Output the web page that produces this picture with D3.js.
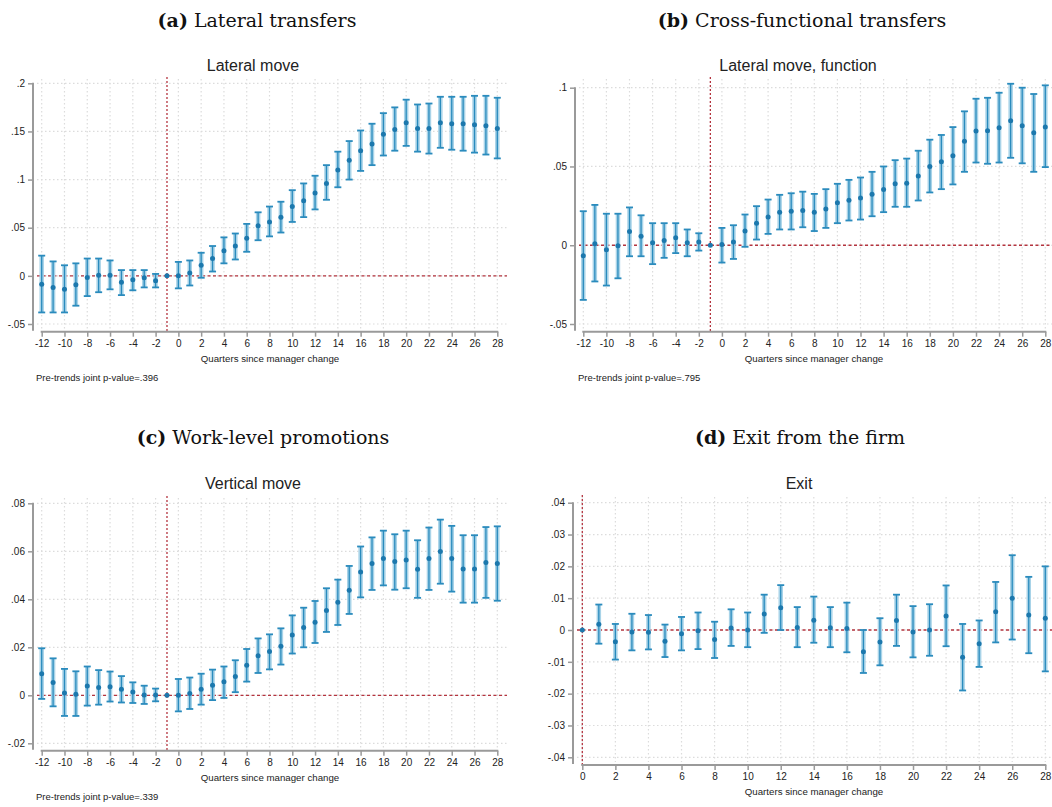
<!DOCTYPE html>
<html>
<head>
<meta charset="utf-8">
<script src="https://cdn.jsdelivr.net/npm/d3@7/dist/d3.min.js"></script>
<style>
  body { margin: 0; background: #fff; }
  text { font-family: "Liberation Sans", Arial, sans-serif; fill: #222; }
  .ptitle { font-family: "DejaVu Serif", "Liberation Serif", serif; fill: #111; }
</style>
</head>
<body>
<svg id="chart" width="1052" height="807"></svg>
<script>
// quarters relative to the manager change
var quartersEvent = [-12,-11,-10,-9,-8,-7,-6,-5,-4,-3,-2,-1,0,1,2,3,4,5,6,7,8,9,10,11,12,13,14,15,16,17,18,19,20,21,22,23,24,25,26,27,28];
var quartersExit = [0,1,2,3,4,5,6,7,8,9,10,11,12,13,14,15,16,17,18,19,20,21,22,23,24,25,26,27,28];

// (a) lateral move
var lateralCoef = [-0.0087,-0.012,-0.014,-0.0093,-0.0017,0.0007,0.0007,-0.0066,-0.004,-0.002,-0.005,0,
  0,0.003,0.011,0.018,0.026,0.031,0.039,0.052,0.056,0.061,0.072,0.078,0.086,0.096,0.110,0.120,0.130,0.137,0.147,0.152,0.159,0.153,0.153,0.159,0.158,0.158,0.157,0.156,0.153];
var lateralLow = [-0.038,-0.038,-0.038,-0.031,-0.021,-0.017,-0.014,-0.020,-0.015,-0.012,-0.012,null,
  -0.013,-0.010,-0.002,0.0045,0.013,0.017,0.025,0.037,0.041,0.045,0.056,0.061,0.069,0.079,0.092,0.100,0.109,0.115,0.125,0.130,0.135,0.129,0.127,0.133,0.131,0.130,0.128,0.126,0.122];
var lateralHigh = [0.021,0.015,0.011,0.013,0.018,0.018,0.016,0.006,0.006,0.006,0.002,null,
  0.0145,0.016,0.024,0.031,0.040,0.044,0.054,0.066,0.072,0.077,0.089,0.096,0.104,0.115,0.129,0.140,0.151,0.158,0.169,0.175,0.183,0.178,0.179,0.186,0.186,0.186,0.187,0.187,0.185];

// (b) lateral move, function
var functionCoef = [-0.0066,0.001,-0.0028,-0.0004,0.0087,0.0057,0.0015,0.003,0.0047,0.0015,0.002,0,
  0.0004,0.002,0.009,0.014,0.018,0.021,0.0216,0.022,0.021,0.023,0.027,0.0286,0.030,0.0324,0.0354,0.039,0.0394,0.044,0.050,0.053,0.0568,0.066,0.0725,0.0727,0.0746,0.079,0.0758,0.0714,0.075];
var functionLow = [-0.0347,-0.023,-0.0256,-0.021,-0.007,-0.007,-0.012,-0.008,-0.005,-0.007,-0.0034,null,
  -0.011,-0.0087,-0.001,0.0036,0.0072,0.010,0.010,0.0114,0.009,0.011,0.014,0.0157,0.0163,0.0184,0.021,0.0244,0.0244,0.0284,0.0335,0.0356,0.0386,0.0466,0.0525,0.0517,0.0525,0.0555,0.052,0.0466,0.0496];
var functionHigh = [0.0216,0.0256,0.020,0.020,0.024,0.019,0.014,0.014,0.014,0.010,0.0076,null,
  0.011,0.0127,0.0195,0.0248,0.029,0.032,0.033,0.034,0.0326,0.0356,0.039,0.0415,0.043,0.0466,0.050,0.054,0.055,0.060,0.067,0.070,0.075,0.085,0.093,0.0936,0.0968,0.1025,0.100,0.096,0.1015];

// (c) vertical move
var verticalCoef = [0.009,0.0053,0.001,0.0004,0.0039,0.0032,0.0036,0.0025,0.0014,0.0001,0.0001,0,
  0,0.0007,0.0025,0.0042,0.0056,0.0078,0.0125,0.0165,0.0182,0.0204,0.0251,0.0282,0.0304,0.0353,0.0388,0.0438,0.0514,0.0549,0.057,0.0557,0.0564,0.0525,0.057,0.0599,0.057,0.0526,0.0526,0.0553,0.0549];
var verticalLow = [-0.0015,-0.0046,-0.0086,-0.0086,-0.0043,-0.0039,-0.0026,-0.003,-0.0032,-0.0036,-0.0025,null,
  -0.0067,-0.0057,-0.0039,-0.002,-0.0011,0.0013,0.0057,0.0093,0.0108,0.0128,0.0174,0.020,0.0218,0.0264,0.0293,0.0339,0.0408,0.0439,0.0458,0.044,0.0446,0.0406,0.0439,0.0465,0.0432,0.0386,0.0386,0.0406,0.0394];
var verticalHigh = [0.0196,0.0154,0.011,0.010,0.012,0.0105,0.0099,0.008,0.0054,0.004,0.0028,null,
  0.0068,0.0074,0.009,0.0107,0.012,0.0146,0.0193,0.0237,0.0254,0.0279,0.0333,0.0365,0.0393,0.0446,0.0482,0.0539,0.062,0.0658,0.0686,0.0671,0.0686,0.0646,0.0699,0.0732,0.0706,0.0667,0.0667,0.0701,0.0704];

// (d) exit
var exitCoef = [0,0.0018,-0.0037,-0.0006,-0.0007,-0.0035,-0.0012,-0.0002,-0.003,0.0006,0,0.005,0.007,0.0008,0.0031,
  0.0007,0.0005,-0.0068,-0.0038,0.003,-0.0006,0,0.0044,-0.0086,-0.0043,0.0057,0.010,0.0047,0.0037];
var exitLow = [null,-0.0043,-0.0093,-0.0064,-0.0061,-0.0085,-0.0064,-0.006,-0.0088,-0.005,-0.0054,-0.0009,0,-0.0054,-0.004,
  -0.0054,-0.007,-0.0135,-0.0111,-0.005,-0.0086,-0.0081,-0.0051,-0.019,-0.0116,-0.0039,-0.003,-0.0073,-0.013];
var exitHigh = [null,0.008,0.0019,0.0051,0.0047,0.0017,0.0041,0.0055,0.0026,0.0065,0.0055,0.0111,0.0141,0.0072,0.0105,
  0.0072,0.0086,0,0.0037,0.0111,0.0075,0.0081,0.014,0.0019,0.003,0.0151,0.0235,0.0167,0.020];

// tick labels
var eventXTicks = [-12,-10,-8,-6,-4,-2,0,2,4,6,8,10,12,14,16,18,20,22,24,26,28];
var exitXTicks = [0,2,4,6,8,10,12,14,16,18,20,22,24,26,28];
var lateralYTicks = [-0.05,0,0.05,0.1,0.15,0.2];
var lateralYLabels = ["-.05","0",".05",".1",".15",".2"];
var functionYTicks = [-0.05,0,0.05,0.1];
var functionYLabels = ["-.05","0",".05",".1"];
var verticalYTicks = [-0.02,0,0.02,0.04,0.06,0.08];
var verticalYLabels = ["-.02","0",".02",".04",".06",".08"];
var exitYTicks = [-0.04,-0.03,-0.02,-0.01,0,0.01,0.02,0.03,0.04];
var exitYLabels = ["-.04","-.03","-.02","-.01","0",".01",".02",".03",".04"];

var svg = d3.select("#chart");

var darkBlue = "#2a8bbd", lightBlue = "#a8d3e8", dotBlue = "#1c78ad";
var redLine = "#b4343f", axisGrey = "#9a9a9a", gridGrey = "#dcdcdc";

var panels = [
  {tag: "(a)", title: " Lateral transfers", sub: "Lateral move",
   xs: quartersEvent, coef: lateralCoef, low: lateralLow, high: lateralHigh,
   xTicks: eventXTicks, yTicks: lateralYTicks, yLabels: lateralYLabels,
   xDomain: [-12, 28], yDomain: [-0.05, 0.2], refX: -1, note: "Pre-trends joint p-value=.396",
   px: [41.7, 497.3], py: [324, 83.3], axisX: 33, axisY: 331.7, gridX: [37, 507], gridY: [79, 329],
   titleX: 257, titleY: 27, subX: 253, subY: 71, xTitleX: 270, noteX: 36},
  {tag: "(b)", title: " Cross-functional transfers", sub: "Lateral move, function",
   xs: quartersEvent, coef: functionCoef, low: functionLow, high: functionHigh,
   xTicks: eventXTicks, yTicks: functionYTicks, yLabels: functionYLabels,
   xDomain: [-12, 28], yDomain: [-0.05, 0.1], refX: -1, note: "Pre-trends joint p-value=.795",
   px: [583.3, 1045.3], py: [324, 87.7], axisX: 575, axisY: 331.7, gridX: [579, 1052], gridY: [79, 329],
   titleX: 802, titleY: 27, subX: 798, subY: 71, xTitleX: 814, noteX: 578},
  {tag: "(c)", title: " Work-level promotions", sub: "Vertical move",
   xs: quartersEvent, coef: verticalCoef, low: verticalLow, high: verticalHigh,
   xTicks: eventXTicks, yTicks: verticalYTicks, yLabels: verticalYLabels,
   xDomain: [-12, 28], yDomain: [-0.02, 0.08], refX: -1, note: "Pre-trends joint p-value=.339",
   px: [41.7, 497.3], py: [743.3, 503.3], axisX: 33, axisY: 750.7, gridX: [37, 507], gridY: [498, 748],
   titleX: 263, titleY: 444, subX: 253, subY: 489, xTitleX: 270, noteX: 36},
  {tag: "(d)", title: " Exit from the firm", sub: "Exit",
   xs: quartersExit, coef: exitCoef, low: exitLow, high: exitHigh,
   xTicks: exitXTicks, yTicks: exitYTicks, yLabels: exitYLabels,
   xDomain: [0, 28], yDomain: [-0.04, 0.04], refX: 0, note: null,
   px: [582.3, 1045.3], py: [757.3, 502.7], axisX: 573, axisY: 765, gridX: [577, 1052], gridY: [497, 762],
   titleX: 800, titleY: 444, subX: 799, subY: 489, xTitleX: 814, noteX: 578}
];

panels.forEach(function(p) {
  var x = d3.scaleLinear().domain(p.xDomain).range(p.px);
  var y = d3.scaleLinear().domain(p.yDomain).range(p.py);
  var g = svg.append("g");

  // panel caption
  var t = g.append("text").attr("class", "ptitle")
    .attr("x", p.titleX).attr("y", p.titleY)
    .attr("text-anchor", "middle").style("font-size", "19px");
  t.append("tspan").style("font-weight", "bold").text(p.tag);
  t.append("tspan").text(p.title);

  // subtitle
  g.append("text").attr("x", p.subX).attr("y", p.subY)
    .attr("text-anchor", "middle").style("font-size", "16px").text(p.sub);

  // grid
  g.selectAll(".hgrid").data(p.yTicks).enter().append("line")
    .attr("x1", p.gridX[0]).attr("x2", p.gridX[1])
    .attr("y1", function(d) { return y(d); }).attr("y2", function(d) { return y(d); })
    .attr("stroke", gridGrey).attr("stroke-width", 1.2).attr("stroke-dasharray", "1.5,2.5");
  g.selectAll(".vgrid").data(p.xTicks).enter().append("line")
    .attr("x1", function(d) { return x(d); }).attr("x2", function(d) { return x(d); })
    .attr("y1", p.gridY[0]).attr("y2", p.gridY[1])
    .attr("stroke", gridGrey).attr("stroke-width", 1.2).attr("stroke-dasharray", "1.5,2.5");

  // reference lines
  g.append("line")
    .attr("x1", p.gridX[0]).attr("x2", p.gridX[1])
    .attr("y1", y(0)).attr("y2", y(0))
    .attr("stroke", redLine).attr("stroke-width", 1.3).attr("stroke-dasharray", "3,2.5");
  g.append("line")
    .attr("x1", x(p.refX)).attr("x2", x(p.refX))
    .attr("y1", p.gridY[0] - 2).attr("y2", p.axisY)
    .attr("stroke", redLine).attr("stroke-width", 1.3).attr("stroke-dasharray", "2,2");

  // y axis
  var yAxis = d3.axisLeft(y).tickValues(p.yTicks)
    .tickFormat(function(d, i) { return p.yLabels[i]; }).tickSize(5).tickPadding(3);
  var ya = g.append("g").attr("transform", "translate(" + p.axisX + ",0)").call(yAxis);
  ya.select(".domain").attr("d", "M0," + (p.py[1] - 0.5) + "V" + (p.axisY - 1));
  // x axis
  var xAxis = d3.axisBottom(x).tickValues(p.xTicks).tickSize(5).tickPadding(3)
    .tickFormat(function(d) { return d; });
  var xa = g.append("g").attr("transform", "translate(0," + p.axisY + ")").call(xAxis);
  xa.select(".domain").attr("d", "M" + (p.px[0] - 1) + ",0H" + (p.px[1] + 1));
  [ya, xa].forEach(function(a) {
    a.select(".domain").attr("stroke", axisGrey).attr("stroke-width", 2);
    a.selectAll(".tick line").attr("stroke", axisGrey).attr("stroke-width", 1.5);
    a.selectAll(".tick text").style("font-size", "10px")
      .style("font-family", "'Liberation Sans', Arial, sans-serif").attr("fill", "#222");
  });

  // x axis title
  g.append("text").attr("x", p.xTitleX).attr("y", p.axisY + 30)
    .attr("text-anchor", "middle").style("font-size", "9.7px").text("Quarters since manager change");

  if (p.note) {
    g.append("text").attr("x", p.noteX).attr("y", p.axisY + 49)
      .style("font-size", "9.5px").text(p.note);
  }

  // confidence intervals
  var rows = p.xs.map(function(q, i) { return {q: q, b: p.coef[i], lo: p.low[i], hi: p.high[i]}; });
  var ci = rows.filter(function(d) { return d.lo !== null; });
  g.selectAll(".band").data(ci).enter().append("line")
    .attr("x1", function(d) { return x(d.q); }).attr("x2", function(d) { return x(d.q); })
    .attr("y1", function(d) { return y(d.lo); }).attr("y2", function(d) { return y(d.hi); })
    .attr("stroke", lightBlue).attr("stroke-width", 4.5);
  g.selectAll(".bar").data(ci).enter().append("line")
    .attr("x1", function(d) { return x(d.q); }).attr("x2", function(d) { return x(d.q); })
    .attr("y1", function(d) { return y(d.lo); }).attr("y2", function(d) { return y(d.hi); })
    .attr("stroke", darkBlue).attr("stroke-width", 1.3);
  ["lo", "hi"].forEach(function(k) {
    g.selectAll(".cap" + k).data(ci).enter().append("line")
      .attr("x1", function(d) { return x(d.q) - 3.5; }).attr("x2", function(d) { return x(d.q) + 3.5; })
      .attr("y1", function(d) { return y(d[k]); }).attr("y2", function(d) { return y(d[k]); })
      .attr("stroke", darkBlue).attr("stroke-width", 1.8);
  });
  g.selectAll(".dot").data(rows).enter().append("circle")
    .attr("cx", function(d) { return x(d.q); }).attr("cy", function(d) { return y(d.b); })
    .attr("r", 2.5).attr("fill", dotBlue);
});
</script>
</body>
</html>
